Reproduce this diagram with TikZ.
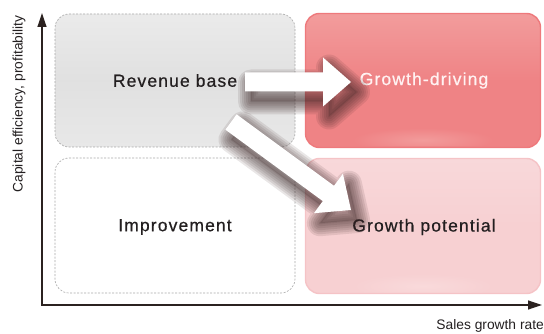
\documentclass[tikz,border=0pt]{standalone}
\usepackage{fontspec}
\setmainfont{Liberation Sans}
\newfontfamily\boxfont[LetterSpace=6.5,FakeBold=0.6]{Liberation Sans}
\usetikzlibrary{calc,arrows.meta}
\definecolor{ink}{HTML}{231F20}
\definecolor{axisc}{HTML}{2B2220}
\definecolor{redfill}{HTML}{EF8385}
\definecolor{redtop}{HTML}{F29C9C}
\definecolor{redglow}{HTML}{F29B9B}
\definecolor{redline}{HTML}{EE797C}
\definecolor{pinkfill}{HTML}{F7D0D2}
\definecolor{pinktop}{HTML}{F8D8DA}
\definecolor{pinkglow}{HTML}{F9DADB}
\definecolor{pinkline}{HTML}{F5C3C6}
\definecolor{dashc}{HTML}{A8A8A8}
\definecolor{shadowc}{HTML}{3A2424}
\newcommand\arrp[3]{($(#1)!9.5pt!90:(#2)$) -- ($(#3)!9.5pt!90:(#2)$) -- ($(#3)!24.5pt!90:(#2)$) -- (#2)
     -- ($(#3)!24.5pt!-90:(#2)$) -- ($(#3)!9.5pt!-90:(#2)$) -- ($(#1)!9.5pt!-90:(#2)$) -- cycle}
\newcommand\blockarr[3]{%
  \coordinate (#3sa) at ($(#1)+(6,10)$);
  \coordinate (#3sb) at ($(#2)+(6,10)$);
  \coordinate (#3c) at ($(#2)!28pt!(#1)$);
  \coordinate (#3sc) at ($(#3sb)!28pt!(#3sa)$);
  \foreach \w in {26,22,18,14,10,6,2}{\draw[shadowc, line width=\w pt, line join=round, opacity=0.11] \arrp{#3sa}{#3sb}{#3sc};}
  \fill[shadowc, opacity=0.2] \arrp{#3sa}{#3sb}{#3sc};
  \fill[white] \arrp{#1}{#2}{#3c};
}
\begin{document}
\begin{tikzpicture}[x=1pt,y=-1pt,
  quad/.style={rounded corners=14pt, inner sep=0pt, font=\boxfont\fontsize{17.5}{20}\selectfont, text=ink},
  graybox/.style={quad, draw=dashc, dash pattern=on 2pt off 1.5pt, line width=0.6pt,
     top color=black!8, bottom color=black!9, middle color=black!12},
  whitebox/.style={quad, draw=dashc, dash pattern=on 2pt off 1.5pt, line width=0.6pt, fill=white},
  redbox/.style={quad, draw=redline, line width=1.4pt, top color=redtop, bottom color=redfill, middle color=redfill, text=white!95!red},
  pinkbox/.style={quad, draw=pinkline, line width=1.4pt, top color=pinktop, bottom color=pinkfill, middle color=pinkfill},
  axis/.style={draw=axisc, line width=1.2pt, -{Triangle[length=14pt,width=9pt]}},
  axlabel/.style={inner sep=0pt, text=ink, font=\fontsize{13.8}{16}\selectfont}
]
\useasboundingbox (0,0) rectangle (544,334);
% axes
\coordinate (o) at (42,305);
\coordinate (ytop) at (42,13);
\coordinate (xend) at (542,305);
\draw[axis] (o) -- (ytop);
\draw[axis] ($(o)+(-0.6,0)$) -- (xend);
\node[axlabel, rotate=90] (ylab) at (19,104) {Capital efficiency, profitability};
\node[axlabel, anchor=east] (xlab) at (544,326) {Sales growth rate};
% boxes
\node[graybox, minimum width=240pt, minimum height=133pt] (rb) at (175,80.5) {};
\node[redbox, minimum width=235pt, minimum height=134pt] (gd) at (423,80.5) {};
\node[whitebox, minimum width=240pt, minimum height=135pt] (im) at (175,225.5) {};
\node[pinkbox, minimum width=235pt, minimum height=135pt] (gp) at (423,226) {};
% glows
\begin{scope}
\clip[rounded corners=13pt] (306.5,14.5) rectangle (539.5,146.5);
\shade[inner color=redglow, outer color=redfill] (423,140) ellipse (70pt and 12pt);
\end{scope}
\begin{scope}
\clip[rounded corners=13pt] (306.5,159.5) rectangle (539.5,292.5);
\shade[inner color=pinkglow, outer color=pinkfill] (423,286) ellipse (70pt and 12pt);
\end{scope}
% labels
\node[quad] at (rb.center) {Revenue base};
\node[quad, text=white!95!red] at (424,80.5) {Growth-driving};
\node[quad] at (175,227) {Improvement};
\node[quad] at (424,227) {Growth potential};
% arrows
\coordinate (hA) at (245,82);
\coordinate (hB) at (351,82);
\coordinate (dA) at (231,122);
\coordinate (dB) at (351,210);
\blockarr{hA}{hB}{h}
\blockarr{dA}{dB}{d}
\end{tikzpicture}
\end{document}
